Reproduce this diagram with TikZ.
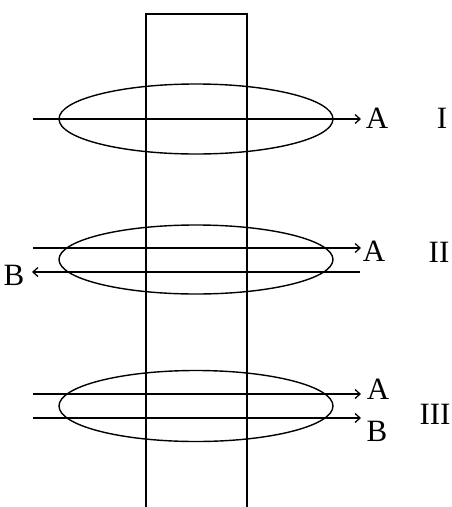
\documentclass[tikz,border=0pt]{standalone}
\usepackage{fontspec}
\setmainfont{Liberation Serif}
\usetikzlibrary{arrows.meta,shapes.geometric}
\begin{document}
\begin{tikzpicture}[x=1pt,y=-1pt,
  line width=1.4pt,
  wire/.style={-{Straight Barb[length=5pt,width=9pt,line width=1.3pt]}},
  loop/.style={draw, ellipse, minimum width=274pt, inner sep=0pt},
  lab/.style={font=\fontsize{31}{31}\selectfont, inner sep=0pt, text height=20.5pt, text depth=0pt, anchor=center}]
\useasboundingbox (0,0) rectangle (451,507);
% strip
\coordinate (sbl) at (146,507);
\coordinate (stl) at (146,14);
\coordinate (str) at (247,14);
\coordinate (sbr) at (247,507);
\draw (sbl) -- (stl) -- (str) -- (sbr);
% loops
\node[loop, minimum height=70pt] (e1) at (196,119) {};
\node[loop, minimum height=69pt] (e2) at (196,259.5) {};
\node[loop, minimum height=71pt] (e3) at (196,406) {};
% I
\coordinate (a1s) at (33,119);
\coordinate (a1e) at (361,119);
\draw[wire] (a1s) -- (a1e);
\node[lab] (la1) at (377,118) {A};
\node[lab] (l1) at (442,118) {I};
% II
\coordinate (a2s) at (33,248);
\coordinate (a2e) at (361,248);
\draw[wire] (a2s) -- (a2e);
\coordinate (b2s) at (360,272);
\coordinate (b2e) at (32,272);
\draw[wire] (b2s) -- (b2e);
\node[lab] (la2) at (374,251) {A};
\node[lab] (lb2) at (14,275) {B};
\node[lab] (l2) at (439,252) {II};
% III
\coordinate (a3s) at (33,394);
\coordinate (a3e) at (361,394);
\draw[wire] (a3s) -- (a3e);
\coordinate (b3s) at (33,418);
\coordinate (b3e) at (361,418);
\draw[wire] (b3s) -- (b3e);
\node[lab] (la3) at (378,389) {A};
\node[lab] (lb3) at (377,431) {B};
\node[lab] (l3) at (435,414) {III};
\end{tikzpicture}
\end{document}
